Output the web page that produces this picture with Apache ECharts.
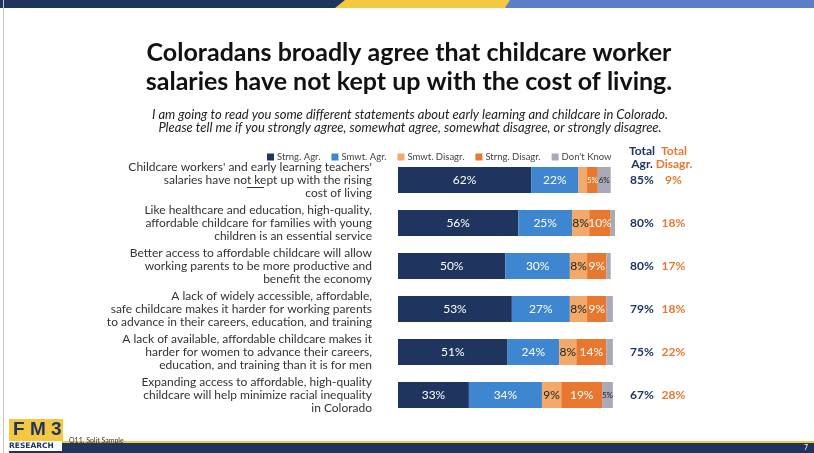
<!DOCTYPE html>
<html><head><meta charset="utf-8">
<script src="https://cdn.jsdelivr.net/npm/echarts@6/dist/echarts.min.js"></script>
<style>html,body{margin:0;padding:0;background:#fff}#c{width:814px;height:453px}</style>
</head><body><div id="c"></div>
<script>
const categories = [
  "Childcare workers' and early learning teachers'\nsalaries have not kept up with the rising\ncost of living",
  "Like healthcare and education, high-quality,\naffordable childcare for families with young\nchildren is an essential service",
  "Better access to affordable childcare will allow\nworking parents to be more productive and\nbenefit the economy",
  "A lack of widely accessible, affordable,\nsafe childcare makes it harder for working parents\nto advance in their careers, education, and training",
  "A lack of available, affordable childcare makes it\nharder for women to advance their careers,\neducation, and training than it is for men",
  "Expanding access to affordable, high-quality\nchildcare will help minimize racial inequality\nin Colorado"
];
const strngAgr   = [62, 56, 50, 53, 51, 33];
const smwtAgr    = [22, 25, 30, 27, 24, 34];
const smwtDisagr = [4, 8, 8, 8, 8, 9];
const strngDisagr= [5, 10, 9, 9, 14, 19];
const dontKnow   = [6, 2, 2, 3, 3, 5];
const totalAgr   = [85, 80, 80, 79, 75, 67];
const totalDisagr= [9, 18, 17, 18, 22, 28];
const seriesNames = ["Strng. Agr.", "Smwt. Agr.", "Smwt. Disagr.", "Strng. Disagr.", "Don't Know"];

const colors = ["#1f3560", "#3f86d0", "#f3a96a", "#e8782f", "#a9a9b8"];
const labelColors = ["#ffffff", "#ffffff", "#222222", "#ffffff", "#222222"];
const seriesData = [strngAgr, smwtAgr, smwtDisagr, strngDisagr, dontKnow];

const rev = a => a.slice().reverse();
const cats = rev(categories);

const series = seriesData.map((arr, i) => ({
  name: seriesNames[i],
  type: 'bar',
  stack: 'all',
  barWidth: 26,
  itemStyle: { color: colors[i] },
  data: rev(arr).map(v => ({
    value: v,
    label: { show: v >= 5, fontSize: v <= 6 ? 8 : 12 }
  })),
  label: {
    show: true, position: 'inside', formatter: '{c}%',
    color: labelColors[i], fontFamily: 'Lato', fontSize: 12
  }
}));

const chart = echarts.init(document.getElementById('c'));
chart.setOption({
  animation: false,
  textStyle: { fontFamily: 'Lato' },
  title: [
    { text: 'Coloradans broadly agree that childcare worker\nsalaries have not kept up with the cost of living.',
      left: 404, top: 33, textAlign: 'center',
      textStyle: { fontFamily: 'Lato', fontWeight: 'bold', fontSize: 25, lineHeight: 29, color: '#111' } },
    { text: 'I am going to read you some different statements about early learning and childcare in Colorado.\nPlease tell me if you strongly agree, somewhat agree, somewhat disagree, or strongly disagree.',
      left: 405, top: 103, textAlign: 'center',
      textStyle: { fontFamily: 'Lato', fontStyle: 'italic', fontWeight: 'normal', fontSize: 13, lineHeight: 13, color: '#222' } },
    { text: 'Total\nAgr.', left: 637, top: 140, textAlign: 'center',
      textStyle: { fontFamily: 'Lato', fontWeight: 'bold', fontSize: 12, lineHeight: 13, color: '#1f3560' } },
    { text: 'Total\nDisagr.', left: 669, top: 140, textAlign: 'center',
      textStyle: { fontFamily: 'Lato', fontWeight: 'bold', fontSize: 12, lineHeight: 13, color: '#e8782f' } },
    { text: 'Q11. Split Sample', left: 64, top: 432,
      textStyle: { fontFamily: 'Lato', fontWeight: 'normal', fontSize: 7, color: '#333' } }
  ],
  legend: {
    left: 262, top: 147, itemWidth: 7, itemHeight: 7, itemGap: 11,
    icon: 'rect', data: seriesNames,
    textStyle: { fontFamily: 'Lato', fontSize: 9.5, color: '#444', padding: [0,0,0,-2] }
  },
  grid: { left: 398, right: 199, top: 158.5, bottom: 36.5 },
  xAxis: { type: 'value', min: 0, max: 101, show: false },
  yAxis: [
    { type: 'category', data: cats,
      axisLine: { show: false }, axisTick: { show: false },
      axisLabel: { margin: 26, align: 'right', fontFamily: 'Lato', fontSize: 12, lineHeight: 13, color: '#333' } },
    { type: 'category', data: cats, position: 'right',
      axisLine: { show: false }, axisTick: { show: false },
      axisLabel: {
        margin: 12, align: 'left',
        formatter: (v, idx) => '{a|' + rev(totalAgr)[idx] + '%}{b|' + rev(totalDisagr)[idx] + '%}',
        rich: {
          a: { width: 30, align: 'center', fontFamily: 'Lato', fontWeight: 'bold', fontSize: 12, color: '#1f3560' },
          b: { width: 33, align: 'center', fontFamily: 'Lato', fontWeight: 'bold', fontSize: 12, color: '#e8782f' }
        }
      } }
  ],
  series: series,
  graphic: [
    { type: 'rect', shape: { x: 0, y: 0, width: 814, height: 8 }, style: { fill: '#5b7fc4' }, silent: true },
    { type: 'polygon', shape: { points: [[0,0],[510,0],[505,8],[0,8]] }, style: { fill: '#f5c842' }, silent: true },
    { type: 'polygon', shape: { points: [[0,0],[345,0],[335,8],[0,8]] }, style: { fill: '#1f3560' }, silent: true },
    { type: 'rect', shape: { x: 247, y: 187, width: 17, height: 1 }, style: { fill: '#333' }, silent: true },
    { type: 'rect', shape: { x: 62, y: 441, width: 752, height: 2 }, style: { fill: '#f5c842' }, silent: true },
    { type: 'rect', shape: { x: 62, y: 443, width: 752, height: 10 }, style: { fill: '#1f3560' }, silent: true },
    { type: 'text', left: 804, top: 444, style: { text: '7', fill: '#fff', fontSize: 7, fontFamily: 'Lato' } },
    { type: 'rect', shape: { x: 9, y: 419, width: 54, height: 22 }, style: { fill: '#f5c842' }, silent: true },
    { type: 'text', left: 13, top: 420, style: { text: 'F M 3', fill: '#1f3560', fontSize: 19, fontWeight: 'bold', fontFamily: 'Liberation Sans' } },
    { type: 'text', left: 9, top: 442, style: { text: 'RESEARCH', fill: '#1f3560', fontSize: 7.5, fontWeight: 'bold', fontFamily: 'DejaVu Sans' } },
    { type: 'rect', shape: { x: 9, y: 451, width: 54, height: 2 }, style: { fill: '#1f3560' }, silent: true },
    { type: 'rect', shape: { x: 3, y: 0, width: 1, height: 453 }, style: { fill: '#c8c8c8' }, silent: true }
  ]
});
</script></body></html>
